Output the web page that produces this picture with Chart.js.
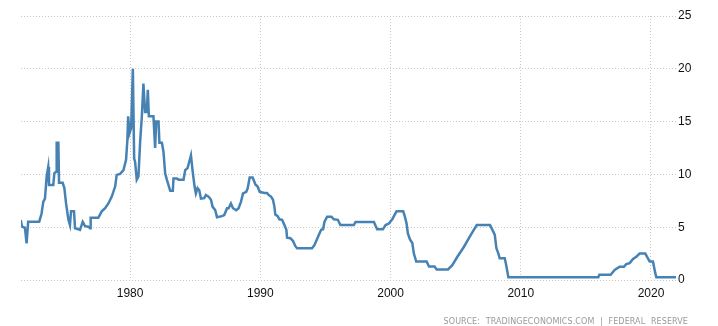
<!DOCTYPE html>
<html>
<head>
<meta charset="utf-8">
<script src="https://cdn.jsdelivr.net/npm/chart.js@4/dist/chart.umd.min.js"></script>
<style>
  html, body { margin: 0; padding: 0; background: #fff; }
  #wrap { position: relative; width: 718px; height: 326px; }
  #source {
    position: absolute;
    right: 30px;
    top: 317px;
    font-family: "DejaVu Sans", sans-serif;
    font-size: 8px;
    letter-spacing: 0.1px;
    word-spacing: 3px;
    color: #9a9a9a;
    white-space: nowrap;
  }
</style>
</head>
<body>
<div id="wrap">
  <canvas id="rateChart" width="718" height="326"></canvas>
  <div id="source">SOURCE: TRADINGECONOMICS.COM | FEDERAL RESERVE</div>
</div>
<script>
// US federal funds rate (%)
const years = [
  1971.60, 1971.70, 1971.92, 1972.05, 1972.17, 1973.02, 1973.20, 1973.33, 1973.46, 1973.59,
  1973.71, 1973.77, 1974.10, 1974.18, 1974.31, 1974.36, 1974.49, 1974.54, 1974.82, 1974.95,
  1975.08, 1975.26, 1975.38, 1975.46, 1975.69, 1975.77, 1976.03, 1976.15, 1976.36, 1976.54,
  1976.79, 1976.92, 1976.97, 1977.56, 1977.82, 1978.08, 1978.33, 1978.59, 1978.85, 1978.97,
  1979.23, 1979.49, 1979.69, 1979.79, 1979.85, 1979.95, 1980.08, 1980.21, 1980.31, 1980.38,
  1980.51, 1980.64, 1980.77, 1980.90, 1981.02, 1981.15, 1981.28, 1981.36, 1981.44, 1981.79,
  1981.92, 1982.00, 1982.18, 1982.25, 1982.44, 1982.56, 1982.69, 1982.82, 1983.08, 1983.28,
  1983.33, 1983.59, 1983.72, 1984.10, 1984.23, 1984.41, 1984.54, 1984.67, 1984.82, 1984.95,
  1985.05, 1985.18, 1985.31, 1985.44, 1985.69, 1985.82, 1986.02, 1986.21, 1986.33, 1986.54,
  1986.67, 1987.05, 1987.23, 1987.44, 1987.56, 1987.74, 1987.90, 1988.15, 1988.33, 1988.51,
  1988.67, 1988.92, 1989.03, 1989.18, 1989.41, 1989.54, 1989.62, 1989.79, 1989.95, 1990.31,
  1990.51, 1990.64, 1990.82, 1990.97, 1991.08, 1991.15, 1991.33, 1991.46, 1991.67, 1991.85,
  1992.00, 1992.05, 1992.31, 1992.51, 1992.69, 1992.82, 1993.97, 1994.15, 1994.49, 1994.67,
  1994.82, 1994.92, 1995.13, 1995.46, 1995.64, 1995.95, 1996.15, 1997.18, 1997.31, 1998.72,
  1998.97, 1999.41, 1999.62, 1999.87, 2000.13, 2000.26, 2000.46, 2000.97, 2001.10, 2001.23,
  2001.33, 2001.49, 2001.67, 2001.79, 2001.97, 2002.77, 2002.95, 2003.38, 2003.54, 2004.41,
  2004.74, 2005.13, 2005.64, 2006.15, 2006.62, 2007.64, 2007.82, 2008.00, 2008.13, 2008.28,
  2008.38, 2008.77, 2008.90, 2009.05, 2015.95, 2016.03, 2016.90, 2017.21, 2017.59, 2017.92,
  2018.10, 2018.36, 2018.62, 2018.87, 2019.13, 2019.56, 2019.90, 2020.15, 2020.33, 2020.41,
  2021.92
];

const rates = [
  5.68, 5.05, 4.95, 3.47, 5.52, 5.52, 6.30, 7.40, 7.70, 9.80,
  10.70, 9.00, 9.00, 10.10, 10.25, 13.00, 13.00, 9.20, 9.20, 8.70,
  7.25, 5.70, 5.20, 6.50, 6.50, 4.90, 4.80, 4.75, 5.50, 5.10,
  5.05, 4.90, 5.90, 5.90, 6.50, 6.80, 7.25, 7.90, 8.85, 9.95,
  10.05, 10.40, 11.40, 13.30, 15.50, 13.90, 14.40, 20.00, 11.50, 11.20,
  9.50, 9.80, 13.10, 15.50, 18.60, 15.90, 15.90, 18.00, 15.50, 15.50,
  12.50, 15.00, 15.00, 13.00, 13.00, 12.15, 10.10, 9.50, 8.45, 8.45,
  9.60, 9.60, 9.50, 9.50, 10.40, 10.60, 11.20, 11.80, 10.10, 8.85,
  8.20, 8.70, 8.50, 7.70, 7.75, 8.05, 7.90, 7.60, 6.95, 6.60,
  5.95, 6.05, 6.15, 6.80, 6.80, 7.25, 6.80, 6.60, 6.80, 7.40,
  8.20, 8.35, 8.70, 9.70, 9.70, 9.30, 9.05, 8.85, 8.35, 8.25,
  8.25, 8.05, 7.90, 7.60, 6.95, 6.20, 6.05, 5.75, 5.70, 5.20,
  4.75, 4.00, 3.95, 3.70, 3.20, 3.00, 3.00, 3.30, 4.25, 4.75,
  4.80, 5.50, 6.00, 6.00, 5.75, 5.70, 5.20, 5.20, 5.50, 5.50,
  4.80, 4.80, 5.20, 5.35, 5.75, 6.05, 6.50, 6.50, 6.00, 5.35,
  4.40, 3.85, 3.50, 2.50, 1.75, 1.75, 1.27, 1.27, 1.00, 1.00,
  1.40, 2.20, 3.15, 4.25, 5.20, 5.20, 4.75, 4.30, 3.00, 2.50,
  2.05, 2.05, 1.27, 0.25, 0.25, 0.50, 0.50, 0.95, 1.25, 1.25,
  1.50, 1.60, 2.00, 2.20, 2.50, 2.50, 1.75, 1.75, 0.65, 0.25,
  0.25
];

const yearTicks = [1980, 1990, 2000, 2010, 2020];
const rateTicks = [0, 5, 10, 15, 20, 25];

const points = years.map((y, i) => ({ x: y, y: rates[i] }));

const gridStyle = {
  color: "#c8c8c8",
  lineWidth: 1,
  drawTicks: false,
};

new Chart(document.getElementById("rateChart"), {
  type: "line",
  data: {
    datasets: [
      {
        label: "Interest Rate",
        data: points,
        borderColor: "#4682b4",
        borderWidth: 2.5,
        pointRadius: 0,
        tension: 0,
        fill: false,
      },
    ],
  },
  options: {
    responsive: false,
    animation: false,
    events: [],
    layout: {
      padding: { left: 21, top: 16, right: 0, bottom: 0 },
    },
    plugins: {
      legend: { display: false },
      tooltip: { enabled: false },
    },
    scales: {
      x: {
        type: "linear",
        min: 1971.62,
        max: 2021.92,
        afterBuildTicks: (scale) => {
          scale.ticks = yearTicks.map((v) => ({ value: v }));
        },
        afterFit: (scale) => {
          scale.height = 46;
        },
        grid: { ...gridStyle },
        border: { display: false, dash: [1, 2] },
        ticks: {
          padding: 6,
          color: "#111",
          font: { family: "Liberation Sans", size: 12 },
          callback: (v) => String(v),
          maxRotation: 0,
        },
      },
      y: {
        position: "right",
        min: 0,
        max: 25,
        afterBuildTicks: (scale) => {
          scale.ticks = rateTicks.map((v) => ({ value: v }));
        },
        afterFit: (scale) => {
          scale.width = 42;
        },
        grid: { ...gridStyle },
        border: { display: false, dash: [1, 2] },
        ticks: {
          padding: 2,
          color: "#111",
          font: { family: "Liberation Sans", size: 12 },
        },
      },
    },
  },
});
</script>
</body>
</html>
